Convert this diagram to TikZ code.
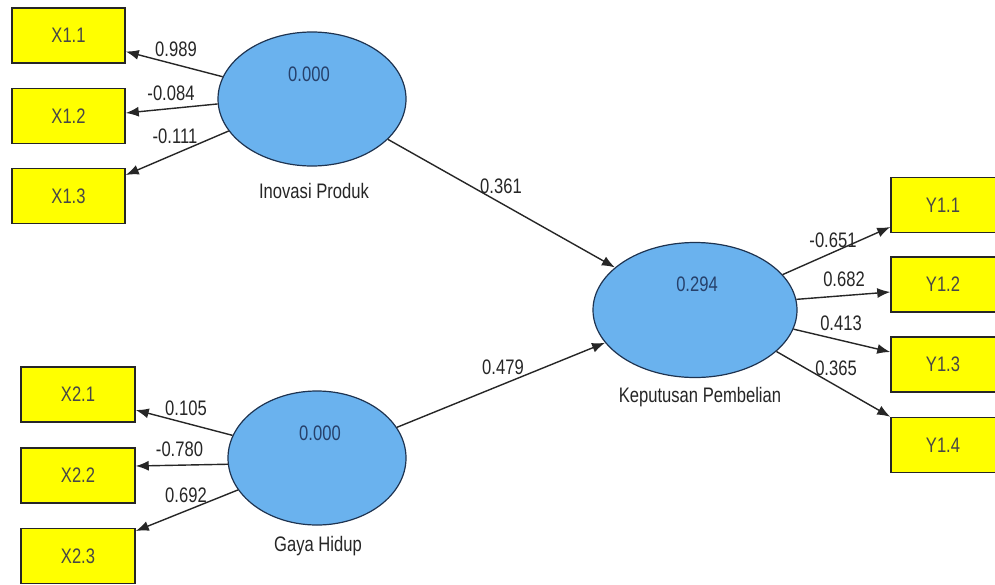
\documentclass[tikz,border=0pt]{standalone}
\usepackage{fontspec}
\setmainfont{Liberation Sans}[FakeStretch=0.79]
\usetikzlibrary{shapes.geometric,arrows.meta}
\definecolor{boxyellow}{HTML}{FFFF00}
\definecolor{lvblue}{HTML}{6AB2EE}
\definecolor{lvedge}{HTML}{1E3350}
\definecolor{lvtext}{HTML}{26406A}
\definecolor{txt}{HTML}{262626}
\tikzset{
  ind/.style={draw=txt, line width=1.5pt, fill=boxyellow, minimum width=113pt, minimum height=55pt, inner sep=0pt, text=txt!85, font=\fontsize{21}{25}\selectfont},
  lv/.style={ellipse, draw=lvedge, line width=1.2pt, fill=lvblue, inner sep=0pt},
  lbl/.style={inner sep=0pt, text=txt, font=\fontsize{21}{25}\selectfont},
  val/.style={inner sep=0pt, text=lvtext, font=\fontsize{21}{25}\selectfont},
  con/.style={draw=txt, line width=1.4pt, -{Latex[length=13pt,width=10pt]}}
}
\begin{document}
\begin{tikzpicture}[x=1pt,y=-1pt]
\useasboundingbox (0,0) rectangle (995,584);
\fill[white] (0,0) rectangle (995,584);
% indicator boxes
\node[ind] (x11) at (68.5,35.5) {X1.1};
\node[ind] (x12) at (68.5,116) {X1.2};
\node[ind] (x13) at (68.5,196) {X1.3};
\node[ind, minimum width=114pt] (x21) at (78,394.5) {X2.1};
\node[ind, minimum width=114pt] (x22) at (78,475.5) {X2.2};
\node[ind, minimum width=114pt] (x23) at (78,556) {X2.3};
\node[ind, minimum width=108pt] (y11) at (945,205) {};
\node[ind, minimum width=108pt] (y12) at (945,284.5) {};
\node[ind, minimum width=108pt] (y13) at (945,364.5) {};
\node[ind, minimum width=108pt] (y14) at (945,445) {};
\node[lbl, text=txt!85] (t11) at (943,205) {Y1.1};
\node[lbl, text=txt!85] (t12) at (943,284.5) {Y1.2};
\node[lbl, text=txt!85] (t13) at (943,364.5) {Y1.3};
\node[lbl, text=txt!85] (t14) at (943,445) {Y1.4};
% latent variables
\node[lv, minimum width=188pt, minimum height=134pt] (ip) at (312,99) {};
\node[lv, minimum width=178pt, minimum height=134pt] (gh) at (317,458) {};
\node[lv, minimum width=204pt, minimum height=135pt] (kp) at (695,310) {};
\node[val] (vip) at (309,74) {0.000};
\node[val] (vgh) at (320,433) {0.000};
\node[val] (vkp) at (697,284) {0.294};
\node[lbl] (nip) at (314,191) {Inovasi Produk};
\node[lbl] (ngh) at (318,546) {Gaya Hidup};
\node[lbl] (nkp) at (700,397) {Keputusan Pembelian};
% outer loadings
\draw[con] (ip.166.7) -- ([yshift=-16pt]x11.east);
\draw[con] (ip.183.7) -- ([yshift=3pt]x12.east);
\draw[con] (ip.201.4) -- ([yshift=21pt]x13.east);
\draw[con] (gh.165.5) -- ([yshift=-15.5pt]x21.east);
\draw[con] (gh.184.5) -- ([yshift=9.5pt]x22.east);
\draw[con] (gh.202) -- ([yshift=25pt]x23.east);
\draw[con] (kp.22.9) -- ([yshift=-22pt]y11.west);
\draw[con] (kp.6.7) -- ([yshift=-7.5pt]y12.west);
\draw[con] (kp.-11.5) -- ([yshift=12.5pt]y13.west);
\draw[con] (kp.-27.7) -- (y14.north west);
% path coefficients
\draw[con] (ip.-28.3) -- (kp.152.6);
\draw[con] (gh.21.7) -- (kp.200.6);
% coefficient labels
\node[lbl] (l11) at (176,49) {0.989};
\node[lbl] (l12) at (171,93) {-0.084};
\node[lbl] (l13) at (175,136) {-0.111};
\node[lbl] (l21) at (186,408) {0.105};
\node[lbl] (l22) at (179.5,449.5) {-0.780};
\node[lbl] (l23) at (186,495) {0.692};
\node[lbl] (m11) at (833,240) {-0.651};
\node[lbl] (m12) at (844,279.5) {0.682};
\node[lbl] (m13) at (841,323) {0.413};
\node[lbl] (m14) at (836,368) {0.365};
\node[lbl] (p1) at (501,186) {0.361};
\node[lbl] (p2) at (503,367) {0.479};
\end{tikzpicture}
\end{document}
